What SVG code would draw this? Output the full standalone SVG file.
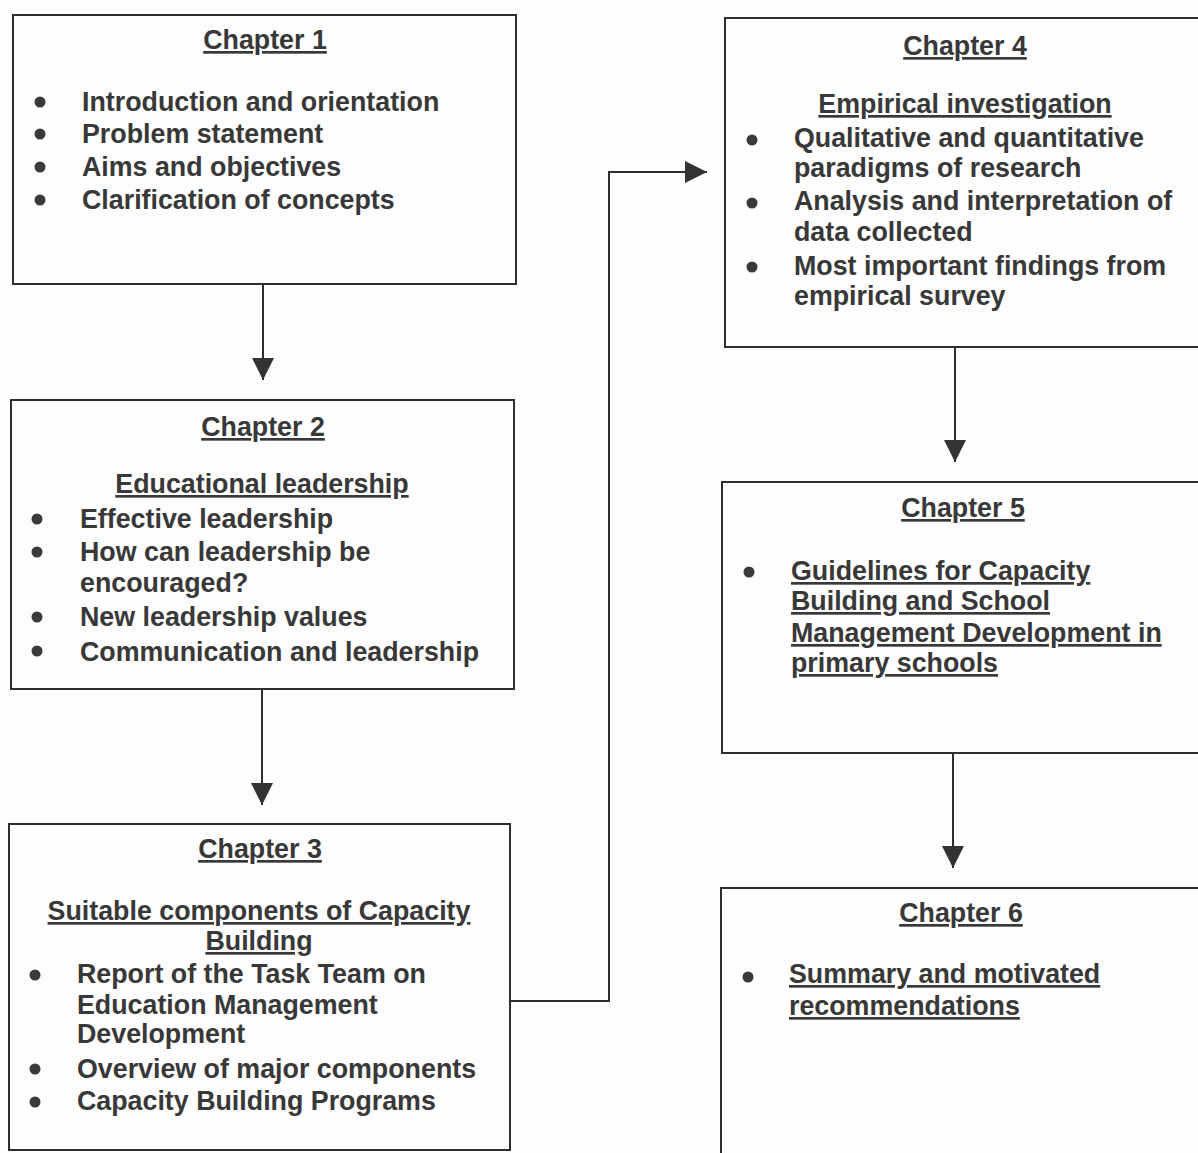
<svg xmlns="http://www.w3.org/2000/svg" width="1198" height="1153" viewBox="0 0 1198 1153">
<style>
.box{fill:none;stroke:#2e2e2e;stroke-width:2}
.t{font-family:"Liberation Sans",Arial,sans-serif;font-weight:bold;font-size:26.8px;fill:#383838}
.h{text-anchor:middle;text-decoration:underline}
.u{text-decoration:underline}
.b{fill:#3a3a3a}
.c{fill:none;stroke:#2e2e2e;stroke-width:2}
</style>
<defs>
<marker id="arr" markerUnits="userSpaceOnUse" markerWidth="22" markerHeight="22" refX="22" refY="11" orient="auto">
<path d="M0,0 L22,11 L0,22 z" fill="#333"/>
</marker>
</defs>
<rect width="1198" height="1153" fill="#fdfdfd"/>
<g id="connectors">
<line class="c" x1="263" y1="284" x2="263" y2="380" marker-end="url(#arr)"/>
<line class="c" x1="262" y1="689" x2="262" y2="805" marker-end="url(#arr)"/>
<polyline class="c" points="510,1001 609,1001 609,172 707,172" marker-end="url(#arr)"/>
<line class="c" x1="955" y1="347" x2="955" y2="462" marker-end="url(#arr)"/>
<line class="c" x1="953" y1="753" x2="953" y2="868" marker-end="url(#arr)"/>
</g>
<g id="chapter1">
<rect class="box" x="13" y="15" width="503" height="269"/>
<text class="t h" x="265" y="49">Chapter 1</text>
<circle class="b" cx="40" cy="102" r="5.5"/>
<circle class="b" cx="40" cy="134" r="5.5"/>
<circle class="b" cx="40" cy="167" r="5.5"/>
<circle class="b" cx="40" cy="200" r="5.5"/>
<text class="t" x="82" y="111">Introduction and orientation</text>
<text class="t" x="82" y="143">Problem statement</text>
<text class="t" x="82" y="176">Aims and objectives</text>
<text class="t" x="82" y="209">Clarification of concepts</text>
</g>
<g id="chapter2">
<rect class="box" x="11" y="400" width="503" height="289"/>
<text class="t h" x="263" y="436">Chapter 2</text>
<text class="t h" x="262" y="493">Educational leadership</text>
<circle class="b" cx="37" cy="519" r="5.5"/>
<circle class="b" cx="37" cy="552" r="5.5"/>
<circle class="b" cx="37" cy="617" r="5.5"/>
<circle class="b" cx="37" cy="651" r="5.5"/>
<text class="t" x="80" y="528">Effective leadership</text>
<text class="t" x="80" y="561">How can leadership be</text>
<text class="t" x="80" y="592">encouraged?</text>
<text class="t" x="80" y="626">New leadership values</text>
<text class="t" x="80" y="661">Communication and leadership</text>
</g>
<g id="chapter3">
<rect class="box" x="9" y="824" width="501" height="326"/>
<text class="t h" x="260" y="858">Chapter 3</text>
<text class="t h" x="259" y="920">Suitable components of Capacity</text>
<text class="t h" x="259" y="950">Building</text>
<circle class="b" cx="35" cy="975" r="5.5"/>
<circle class="b" cx="35" cy="1069" r="5.5"/>
<circle class="b" cx="35" cy="1102" r="5.5"/>
<text class="t" x="77" y="983">Report of the Task Team on</text>
<text class="t" x="77" y="1014">Education Management</text>
<text class="t" x="77" y="1043">Development</text>
<text class="t" x="77" y="1078">Overview of major components</text>
<text class="t" x="77" y="1110">Capacity Building Programs</text>
</g>
<g id="chapter4">
<rect class="box" x="725" y="18" width="480" height="329"/>
<text class="t h" x="965" y="55">Chapter 4</text>
<text class="t h" x="965" y="113">Empirical investigation</text>
<circle class="b" cx="752" cy="140" r="5.5"/>
<circle class="b" cx="752" cy="203" r="5.5"/>
<circle class="b" cx="752" cy="267" r="5.5"/>
<text class="t" x="794" y="147">Qualitative and quantitative</text>
<text class="t" x="794" y="177">paradigms of research</text>
<text class="t" x="794" y="210">Analysis and interpretation of</text>
<text class="t" x="794" y="241">data collected</text>
<text class="t" x="794" y="275">Most important findings from</text>
<text class="t" x="794" y="305">empirical survey</text>
</g>
<g id="chapter5">
<rect class="box" x="722" y="482" width="483" height="271"/>
<text class="t h" x="963" y="517">Chapter 5</text>
<circle class="b" cx="749" cy="572" r="5.5"/>
<text class="t u" x="791" y="580">Guidelines for Capacity</text>
<text class="t u" x="791" y="610">Building and School</text>
<text class="t u" x="791" y="642">Management Development in</text>
<text class="t u" x="791" y="672">primary schools</text>
</g>
<g id="chapter6">
<rect class="box" x="721" y="888" width="484" height="280"/>
<text class="t h" x="961" y="922">Chapter 6</text>
<circle class="b" cx="748" cy="977" r="5.5"/>
<text class="t u" x="789" y="983">Summary and motivated</text>
<text class="t u" x="789" y="1015">recommendations</text>
</g>
</svg>
